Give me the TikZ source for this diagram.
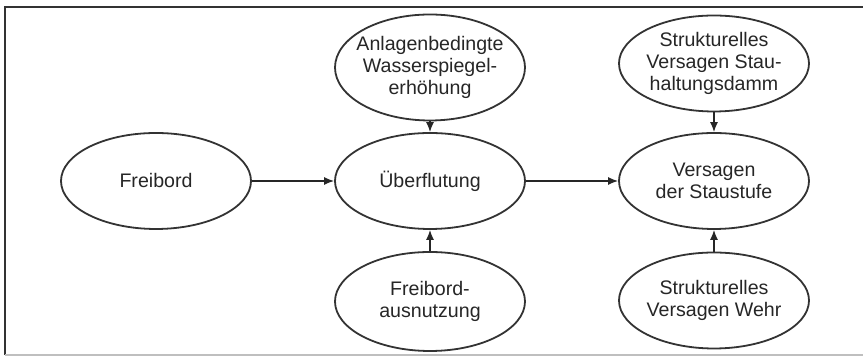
\documentclass[tikz,border=0pt]{standalone}
\usepackage{fontspec}
\setmainfont{Liberation Sans}
\usetikzlibrary{shapes.geometric,arrows.meta}
\tikzset{
  ev/.style={ellipse, draw=black!80, line width=0.9pt, minimum width=95pt, minimum height=48pt, inner sep=0pt,
    label={[align=center, font=\fontsize{9.8}{10.8}\selectfont, text=black!85]center:#1}},
  pfeil/.style={-{Latex[length=5pt,width=4pt]}, line width=0.7pt, draw=black!85}
}
\begin{document}
\begin{tikzpicture}[x=0.5pt,y=-0.5pt]
      \useasboundingbox (0,0) rectangle (863,356);
      \draw[black!80, line width=1pt] (863,7) -- (5,7) -- (5,355);
      \draw[black!25, line width=1pt] (5,355) -- (863,355);
      \draw
        (156,181) node[ev=Freibord] (freibord){}
        (430,181) node[ev=Überflutung] (ueber){}
        (430,67.5) node[ev={Anlagenbedingte\\Wasserspiegel-\\erhöhung}, minimum height=53pt] (anlage){}
        (430,301.5) node[ev={Freibord-\\ausnutzung}, minimum height=49.5pt] (ausnutz){}
        (714,181) node[ev={Versagen\\der Staustufe}] (staustufe){}
        (714,63.5) node[ev={Strukturelles\\Versagen Stau-\\haltungsdamm}] (damm){}
        (714,300.5) node[ev={Strukturelles\\Versagen Wehr}] (wehr){};
      \begin{scope}[pfeil]
        \draw (freibord) to (ueber);
        \draw (anlage) to (ueber);
        \draw (ausnutz) to (ueber);
        \draw (ueber) to (staustufe);
        \draw (damm) to (staustufe);
        \draw (wehr) to (staustufe);
      \end{scope}
    \end{tikzpicture}
\end{document}
